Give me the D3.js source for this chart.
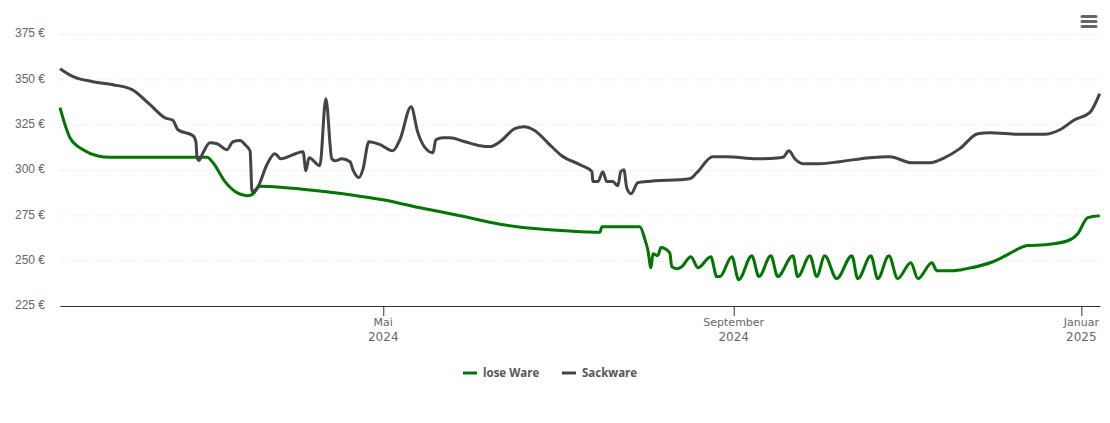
<!DOCTYPE html>
<html>
<head>
<meta charset="utf-8">
<script src="https://cdnjs.cloudflare.com/ajax/libs/d3/7.8.5/d3.min.js"></script>
<style>
  html, body { margin: 0; padding: 0; background: #fff; }
  svg { display: block; font-family: "DejaVu Sans", sans-serif; }
</style>
</head>
<body>
<div id="chart"></div>
<script>
// days are counted from the left edge of the chart
var looseDays = [0, 3.5, 8.1, 13, 17.5, 51.6, 53.7, 57.9, 62.1, 65.6, 67.4, 70.2, 78.2, 90.2, 101.8,
  113.3, 126.3, 140.4, 154.4, 168.4, 178.9, 189.5, 190.2, 203.5, 205.3, 206.3, 207.4, 208.1, 209.8,
  210.9, 214, 214.7, 216.5, 218.2, 221.4, 223.9, 228.4, 230.5, 231.6, 235.8, 238.2, 242.8, 245.3,
  249.5, 251.9, 257.2, 258.9, 263.2, 265.6, 268.4, 272.6, 277.9, 280, 284.6, 287, 290.9, 294,
  298.6, 301.1, 306, 307.7, 313.3, 318.2, 327.4, 334.4, 336.8, 339.6, 345.6, 353.7, 357.2, 360.7, 364.9];
var looseValues = [334.4, 317.8, 311.2, 307.9, 307, 307, 304, 293.6, 287.5, 285.8, 286.4, 291, 290.4, 288.6, 286.4,
  283.6, 279.2, 274.8, 270.1, 267.4, 266.3, 265.7, 268.7, 268.7, 261.6, 256, 246.1, 253.8, 252.7,
  257.2, 254.4, 246.7, 245.6, 246.7, 252.2, 246.1, 252.2, 241.2, 241.2, 252.2, 239.5, 252.7, 241.2,
  252.7, 241.2, 252.7, 241.2, 252.7, 241.2, 252.7, 240.1, 252.7, 240.1, 252.7, 240.1, 252.7, 240.1,
  248.9, 240.1, 248.9, 244.5, 244.5, 245.6, 249.4, 254.9, 256.9, 258.3, 258.8, 261, 264.9, 273.7, 274.8];

var sackDays = [0, 4.6, 11.6, 18.6, 25.3, 31.6, 36.8, 39.6, 41.4, 46.7, 47.7, 48.1, 48.8, 50.2, 52.6,
  55.1, 58.6, 60.7, 63.2, 64.9, 66.7, 67.4, 69.5, 72.6, 75.4, 77.5, 85.3, 86.3, 87.4, 91.2, 93.3,
  95.4, 96.5, 98.9, 101.8, 102.8, 104.9, 106.3, 108.4, 112.3, 116.8, 119.3, 123.2, 125.6, 128.1,
  130.9, 131.9, 134.4, 136.8, 142.1, 147.4, 150.9, 154.4, 159.6, 162.8, 166.7, 171.2, 176.1, 182.5,
  186.7, 187, 188.8, 190.5, 191.9, 194, 195.8, 196.8, 197.9, 198.9, 200.4, 202.8, 206, 221.1, 223.5,
  229.1, 234, 244.6, 252.6, 254, 255.8, 257.9, 260.7, 266.7, 273.7, 284.2, 291.2, 298.9, 305.3,
  310.5, 315.8, 322.1, 326.3, 336.8, 345.6, 350.9, 356.1, 361.4, 364.9];
var sackValues = [355.9, 351.5, 348.7, 347, 344.3, 336, 328.8, 327.4, 322.2, 318.9, 315.6, 306.8, 305.3, 309.5, 315,
  314.5, 311.2, 315.6, 316.2, 314, 310.6, 288, 290.8, 302.9, 309, 306.2, 310.1, 299.6, 306.8, 302.4, 339.3,
  306.2, 305.1, 306.2, 304.6, 300.2, 295.8, 300.2, 315.6, 314, 310.6, 316.7, 334.9, 320.6, 312.3,
  309.5, 316.7, 317.8, 317.8, 315.6, 313.4, 312.9, 315.6, 322.8, 323.9, 321.7, 315, 307.9, 302.9,
  299.1, 293.6, 293.6, 299.1, 293.6, 293.6, 291.3, 299.1, 300.2, 290.2, 286.9, 293, 293.6, 295.2, 298.5,
  307.3, 307.3, 306.2, 306.8, 307.3, 310.6, 306.2, 303.5, 303.5, 304.6, 306.8, 307.3, 304, 304,
  306.8, 311.8, 320, 320.6, 319.7, 319.7, 322.2, 327.7, 331.6, 342.1];

var yTicks = [225, 250, 275, 300, 325, 350, 375];
var monthTicks = ['2024-05-01', '2024-09-01', '2025-01-01'];
var monthNames = ['Mai', 'September', 'Januar'];
var yearNames = ['2024', '2024', '2025'];
var seriesNames = ['lose Ware', 'Sackware'];
var seriesColors = ['#007500', '#434348'];

var width = 1110, height = 423;
var margin = {top: 34, right: 10, bottom: 117, left: 60};
var dayMs = 86400000;

var startTime = Date.UTC(2024, 4, 1) - 113.45 * dayMs;
var x = d3.scaleUtc()
  .domain([new Date(startTime), new Date(startTime + 365 * dayMs)])
  .range([margin.left, width - margin.right]);
var y = d3.scaleLinear()
  .domain([225, 375])
  .range([height - margin.bottom, margin.top]);

var svg = d3.select('#chart').append('svg')
  .attr('width', width)
  .attr('height', height);

// y axis: labels and dotted grid lines
var yAxis = svg.append('g')
  .attr('transform', 'translate(' + margin.left + ',0)')
  .call(d3.axisLeft(y)
    .tickValues(yTicks)
    .tickSize(-(width - margin.left - margin.right))
    .tickPadding(15)
    .tickFormat(function(d) { return d + ' €'; }));
yAxis.select('.domain').remove();
yAxis.selectAll('line')
  .attr('stroke', '#ddd')
  .attr('stroke-dasharray', '1,2');
yAxis.selectAll('text')
  .attr('fill', '#666')
  .attr('y', -1)
  .style('font-size', '12px');

// x axis
var monthDates = monthTicks.map(function(d) { return new Date(d); });
var xAxis = svg.append('g')
  .attr('transform', 'translate(0,' + y(225) + ')')
  .call(d3.axisBottom(x).tickValues(monthDates).tickSize(10).tickSizeOuter(0).tickFormat(''));
xAxis.selectAll('.domain, line')
  .attr('stroke', '#333');
xAxis.selectAll('text').remove();

var tickLabels = svg.append('g')
  .attr('text-anchor', 'middle')
  .attr('fill', '#666')
  .style('font-size', '11px');
monthDates.forEach(function(d, i) {
  var label = tickLabels.append('text')
    .attr('transform', 'translate(' + x(d) + ',' + (y(225) + 20) + ')');
  label.append('tspan').attr('x', 0).attr('y', 0).text(monthNames[i]);
  label.append('tspan').attr('x', 0).attr('y', 15).style('font-size', '12px').text(yearNames[i]);
});

// series
var line = d3.line()
  .x(function(d) { return x(new Date(startTime + d[0] * dayMs)); })
  .y(function(d) { return y(d[1]); })
  .curve(d3.curveMonotoneX);

[d3.zip(looseDays, looseValues), d3.zip(sackDays, sackValues)].forEach(function(points, i) {
  svg.append('path')
    .datum(points)
    .attr('fill', 'none')
    .attr('stroke', seriesColors[i])
    .attr('stroke-width', 3)
    .attr('stroke-linejoin', 'round')
    .attr('d', line);
});

// legend
var legendX = [463, 562];
seriesNames.forEach(function(name, i) {
  var item = svg.append('g').attr('transform', 'translate(' + legendX[i] + ',373)');
  item.append('line')
    .attr('x1', 0).attr('x2', 14)
    .attr('stroke', seriesColors[i])
    .attr('stroke-width', 3);
  item.append('text')
    .attr('x', 20).attr('y', 4)
    .attr('fill', '#555')
    .style('font-family', '"Open Sans", sans-serif')
    .style('font-size', '11.5px')
    .style('font-weight', 'bold')
    .text(name);
});

// export menu icon
var menuY = [16.5, 21.5, 26.5];
svg.append('g').selectAll('line')
  .data(menuY)
  .enter().append('line')
  .attr('x1', 1082).attr('x2', 1096)
  .attr('y1', function(d) { return d; })
  .attr('y2', function(d) { return d; })
  .attr('stroke', '#666')
  .attr('stroke-width', 3)
  .attr('stroke-linecap', 'round');
</script>
</body>
</html>
